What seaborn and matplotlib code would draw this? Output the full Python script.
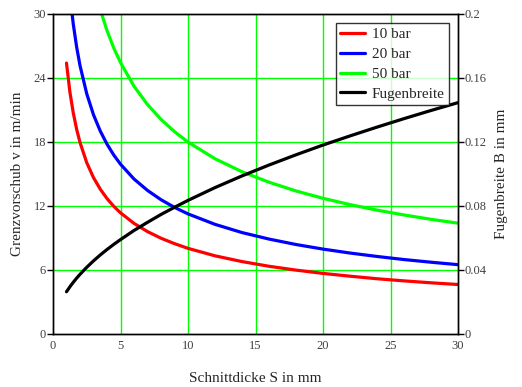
import matplotlib
matplotlib.use("Agg")
import matplotlib.pyplot as plt
import seaborn as sns
import pandas as pd
from matplotlib.lines import Line2D

sns.set_style("white")
plt.rcParams['font.family'] = ['Liberation Serif', 'DejaVu Serif']

# Data
S = [1, 1.25, 1.5, 1.75, 2, 2.5, 3, 3.5, 4, 4.5, 5, 6, 7, 8, 9, 10, 12, 14, 16, 18, 20, 22, 24, 26, 28, 30]
v10 = [25.4, 22.7, 20.74, 19.2, 17.96, 16.06, 14.66, 13.58, 12.7, 11.97, 11.36, 10.37, 9.60, 8.98, 8.47, 8.03,
       7.33, 6.79, 6.35, 5.99, 5.68, 5.42, 5.18, 4.98, 4.80, 4.64]
v20 = [35.6, 31.84, 29.07, 26.91, 25.17, 22.52, 20.55, 19.03, 17.8, 16.78, 15.92, 14.53, 13.46, 12.59, 11.87, 11.26,
       10.28, 9.51, 8.9, 8.39, 7.96, 7.59, 7.27, 6.98, 6.73, 6.5]
S50 = [3, 3.5, 4, 4.5, 5, 6, 7, 8, 9, 10, 12, 14, 16, 18, 20, 22, 24, 26, 28, 30]
v50 = [32.85, 30.41, 28.45, 26.82, 25.45, 23.23, 21.51, 20.12, 18.97, 17.99, 16.43, 15.21, 14.23, 13.41, 12.72,
       12.13, 11.61, 11.16, 10.75, 10.39]
B = [0.0264, 0.0295, 0.0323, 0.0349, 0.0373, 0.0417, 0.0457, 0.0494, 0.0528, 0.0560, 0.0590, 0.0647, 0.0698,
     0.0747, 0.0792, 0.0835, 0.0915, 0.0988, 0.1056, 0.1120, 0.1181, 0.1238, 0.1293, 0.1346, 0.1397, 0.1446]

labels = ["10 bar", "20 bar", "50 bar", "Fugenbreite"]
colors = ["#ff0000", "#0000ff", "#00ff00", "#000000"]
x_ticks = [0, 5, 10, 15, 20, 25, 30]
y_ticks = [0, 6, 12, 18, 24, 30]
y2_ticks = [0, 0.04, 0.08, 0.12, 0.16, 0.2]
y2_labels = ["0", "0.04", "0.08", "0.12", "0.16", "0.2"]

fig = plt.figure(figsize=(5.22, 3.87), dpi=100)
ax = fig.add_axes([53/522, 53/387, 405/522, 320/387])

lw = 2.3
sns.lineplot(x=S, y=v10, ax=ax, color=colors[0], lw=lw, sort=False)
sns.lineplot(x=S, y=v20, ax=ax, color=colors[1], lw=lw, sort=False)
sns.lineplot(x=S50, y=v50, ax=ax, color=colors[2], lw=lw, sort=False)

ax.set_xlim(0, 30)
ax.set_ylim(0, 30)
ax.set_xticks(x_ticks)
ax.set_yticks(y_ticks)
for xv in x_ticks[1:-1]:
    ax.axvline(xv, color="#00ff00", lw=1, zorder=0)
for yv in y_ticks[1:-1]:
    ax.axhline(yv, color="#00ff00", lw=1, zorder=0)

ax2 = ax.twinx()
sns.lineplot(x=S, y=B, ax=ax2, color=colors[3], lw=lw, sort=False)
ax2.set_ylim(0, 0.2)
ax2.set_yticks(y2_ticks)
ax2.set_yticklabels(y2_labels)

tick_col = "#404040"
for a in (ax, ax2):
    for sp in a.spines.values():
        sp.set_color("black")
        sp.set_linewidth(1.0)
    a.tick_params(direction="out", length=4, width=1, colors="black", labelcolor=tick_col, labelsize=9, pad=1)
ax.tick_params(axis="x", length=0, pad=4)

ax.set_xlabel("Schnittdicke S in mm", fontsize=11, labelpad=15)
ax.set_ylabel("Grenzvorschub v in m/min", fontsize=11, labelpad=7)
ax2.set_ylabel("Fugenbreite B in mm", fontsize=11, labelpad=6)

handles = [Line2D([0], [0], color=c, lw=lw) for c in colors]
leg = ax2.legend(handles, labels, loc="upper right", bbox_to_anchor=(449/522, 373/387 - 9/387),
                 bbox_transform=fig.transFigure, fontsize=11, frameon=True, fancybox=False,
                 edgecolor="black", handlelength=1.65, handletextpad=0.4, borderpad=0.3,
                 labelspacing=0.4, borderaxespad=0)
leg.get_frame().set_linewidth(1.0)

fig.savefig("out.png", dpi=100)
